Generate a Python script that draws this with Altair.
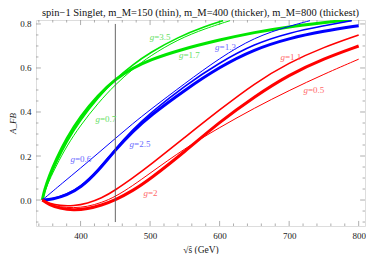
import altair as alt
import pandas as pd

X_DOMAIN = [335.9, 809.1]
Y_DOMAIN = [-0.118, 0.818]

# ---- curves: (x list, y list) ----
green_thin_x = [345, 348, 355, 365, 380, 400, 425, 450, 475, 500, 540, 580, 615]
green_thin_y = [0, 0.035, 0.09, 0.155, 0.245, 0.34, 0.44, 0.525, 0.595, 0.655, 0.73, 0.78, 0.815]
green_mid_x = [345, 348, 355, 365, 380, 400, 425, 450, 475, 500, 540, 580, 605]
green_mid_y = [0, 0.04, 0.10, 0.17, 0.265, 0.365, 0.465, 0.55, 0.615, 0.67, 0.74, 0.79, 0.815]
green_thick_x = [345, 348, 355, 365, 380, 400, 425, 450, 475, 500, 540, 600, 650, 700, 750, 790]
green_thick_y = [0, 0.045, 0.11, 0.185, 0.28, 0.38, 0.475, 0.55, 0.60, 0.637, 0.68, 0.728, 0.762, 0.788, 0.806, 0.82]

blue_thin_x = [345, 375, 400, 425, 450, 475, 500, 550, 600, 650, 700, 730]
blue_thin_y = [0, 0.08, 0.145, 0.212, 0.28, 0.347, 0.41, 0.53, 0.645, 0.74, 0.79, 0.815]
blue_mid_x = [345, 360, 380, 400, 425, 450, 475, 500, 550, 600, 650, 700, 750, 790]
blue_mid_y = [0, 0.004, 0.025, 0.06, 0.135, 0.232, 0.32, 0.395, 0.52, 0.625, 0.71, 0.76, 0.792, 0.815]
blue_thick_x = [345, 360, 380, 400, 425, 450, 475, 500, 550, 600, 650, 700, 750, 800]
blue_thick_y = [0, 0.003, 0.022, 0.055, 0.13, 0.228, 0.312, 0.383, 0.50, 0.605, 0.685, 0.735, 0.768, 0.792]

red_thin_x = [345, 355, 370, 390, 410, 430, 450, 475, 500, 550, 600, 650, 700, 750, 800]
red_thin_y = [0, -0.02, -0.032, -0.036, -0.03, -0.012, 0.015, 0.065, 0.122, 0.235, 0.33, 0.418, 0.498, 0.572, 0.64]
red_mid_x = [345, 355, 370, 390, 410, 430, 450, 475, 500, 550, 600, 650, 700, 750, 800]
red_mid_y = [0, -0.015, -0.026, -0.027, -0.015, 0.008, 0.045, 0.10, 0.158, 0.285, 0.41, 0.53, 0.625, 0.695, 0.75]
red_thick_x = [345, 355, 370, 390, 410, 430, 450, 475, 500, 550, 600, 650, 700, 750, 800]
red_thick_y = [0, -0.022, -0.038, -0.046, -0.04, -0.024, 0.0, 0.042, 0.095, 0.22, 0.355, 0.47, 0.57, 0.643, 0.70]

# ---- labels ----
label_num = ["=3.5", "=1.7", "=0.7", "=1.3", "=2.5", "=0.6", "=1.1", "=0.5", "=2"]
label_x = [506, 548, 428, 600, 477, 392, 694, 727, 497]
label_y = [0.740, 0.658, 0.366, 0.696, 0.253, 0.186, 0.651, 0.502, 0.032]
label_color = ["#66e066", "#66e066", "#66e066", "#6a6aff", "#6a6aff", "#6a6aff",
               "#ff6a6a", "#ff6a6a", "#ff6a6a"]

# ---- frame ticks ----
x_major = [400, 500, 600, 700, 800]
x_minor = [340, 360, 380, 420, 440, 460, 480, 520, 540, 560, 580, 620, 640, 660, 680,
           720, 740, 760, 780]
y_major = [0.0, 0.2, 0.4, 0.6, 0.8]
y_minor = [-0.1, -0.05, 0.05, 0.1, 0.15, 0.25, 0.3, 0.35, 0.45, 0.5, 0.55, 0.65, 0.7, 0.75]

GREEN, BLUE, RED = "#00e600", "#0000ff", "#ff0000"
series = [
    ("g_thin", green_thin_x, green_thin_y, GREEN, 1.0),
    ("g_mid", green_mid_x, green_mid_y, GREEN, 1.6),
    ("g_thick", green_thick_x, green_thick_y, GREEN, 3.0),
    ("b_thin", blue_thin_x, blue_thin_y, BLUE, 1.0),
    ("b_mid", blue_mid_x, blue_mid_y, BLUE, 1.6),
    ("b_thick", blue_thick_x, blue_thick_y, BLUE, 3.0),
    ("r_thin", red_thin_x, red_thin_y, RED, 1.0),
    ("r_mid", red_mid_x, red_mid_y, RED, 1.6),
    ("r_thick", red_thick_x, red_thick_y, RED, 3.0),
]
rows = []
for name, xs, ys, col, w in series:
    for i, (a, b) in enumerate(zip(xs, ys)):
        rows.append({"s": name, "x": a, "y": b, "c": col, "w": w, "o": i})
curves_df = pd.DataFrame(rows)

xs_scale = alt.Scale(domain=X_DOMAIN, nice=False, zero=False)
ys_scale = alt.Scale(domain=Y_DOMAIN, nice=False, zero=False)

SERIF = "Liberation Serif"

base_x = alt.X("x:Q", scale=xs_scale, title="√ŝ  (GeV)",
               axis=alt.Axis(values=x_major, ticks=False, domain=False, grid=False,
                             labelFont=SERIF, labelFontSize=9, labelColor="#222",
                             labelPadding=5, titleFont=SERIF, titleFontSize=9.5,
                             titleFontWeight="normal", titleColor="#222", titlePadding=4))
base_y = alt.Y("y:Q", scale=ys_scale, title="A_FB",
               axis=alt.Axis(values=y_major, format=".1f", ticks=False, domain=False,
                             grid=False, labelFont=SERIF, labelFontSize=9,
                             labelColor="#222", labelPadding=5, titleFont=SERIF,
                             titleFontSize=9, titleFontWeight="normal",
                             titleFontStyle="italic", titleColor="#222", titlePadding=2))

lines = alt.Chart(curves_df).mark_line(interpolate="basis", clip=True).encode(
    x=base_x, y=base_y,
    color=alt.Color("c:N", scale=None),
    strokeWidth=alt.StrokeWidth("w:Q", scale=None),
    detail="s:N", order="o:Q",
)

vline = alt.Chart(pd.DataFrame({"x": [450], "y": [-0.1], "y2": [0.8]})).mark_rule(
    color="#555", strokeWidth=0.9).encode(x="x:Q", y="y:Q", y2="y2:Q")

lab_df = pd.DataFrame({"x": label_x, "y": label_y, "t": label_num, "c": label_color,
                       "g": ["g"] * len(label_num)})
lab_g = alt.Chart(lab_df).mark_text(
    font=SERIF, fontSize=9, fontStyle="italic", align="right").encode(
    x="x:Q", y="y:Q", text="g:N", color=alt.Color("c:N", scale=None))
lab_n = alt.Chart(lab_df).mark_text(
    font=SERIF, fontSize=9, align="left").encode(
    x="x:Q", y="y:Q", text="t:N", color=alt.Color("c:N", scale=None))

# ticks data (inward, on four sides)
xlen_maj, xlen_min = 7.0, 3.5
ylen_maj, ylen_min = 0.023, 0.0115
tick_rows = []
for v in x_major + x_minor:
    L = ylen_maj if v in x_major else ylen_min
    tick_rows.append({"x": v, "x2": v, "y": Y_DOMAIN[0], "y2": Y_DOMAIN[0] + L})
    tick_rows.append({"x": v, "x2": v, "y": Y_DOMAIN[1], "y2": Y_DOMAIN[1] - L})
for v in y_major + y_minor:
    L = xlen_maj if v in y_major else xlen_min
    tick_rows.append({"x": X_DOMAIN[0], "x2": X_DOMAIN[0] + L, "y": v, "y2": v})
    tick_rows.append({"x": X_DOMAIN[1], "x2": X_DOMAIN[1] - L, "y": v, "y2": v})
ticks = alt.Chart(pd.DataFrame(tick_rows)).mark_rule(color="#999", strokeWidth=0.8).encode(
    x="x:Q", x2="x2:Q", y="y:Q", y2="y2:Q")

chart = alt.layer(ticks, lines, vline, lab_g, lab_n).properties(
    width=358, height=246,
    autosize=alt.AutoSizeParams(type="fit", contains="padding"),
    padding={"left": 0, "top": 0, "right": 0, "bottom": 0},
    title=alt.TitleParams(
        "spin−1 Singlet, m_M=150 (thin), m_M=400 (thicker), m_M=800 (thickest)",
        font=SERIF, fontSize=10.5, fontWeight="normal", color="#111", offset=1),
).configure_view(stroke="#999", strokeWidth=1).configure(background="white")

chart.save("out.html", embed_options={"renderer": "svg", "actions": False})
